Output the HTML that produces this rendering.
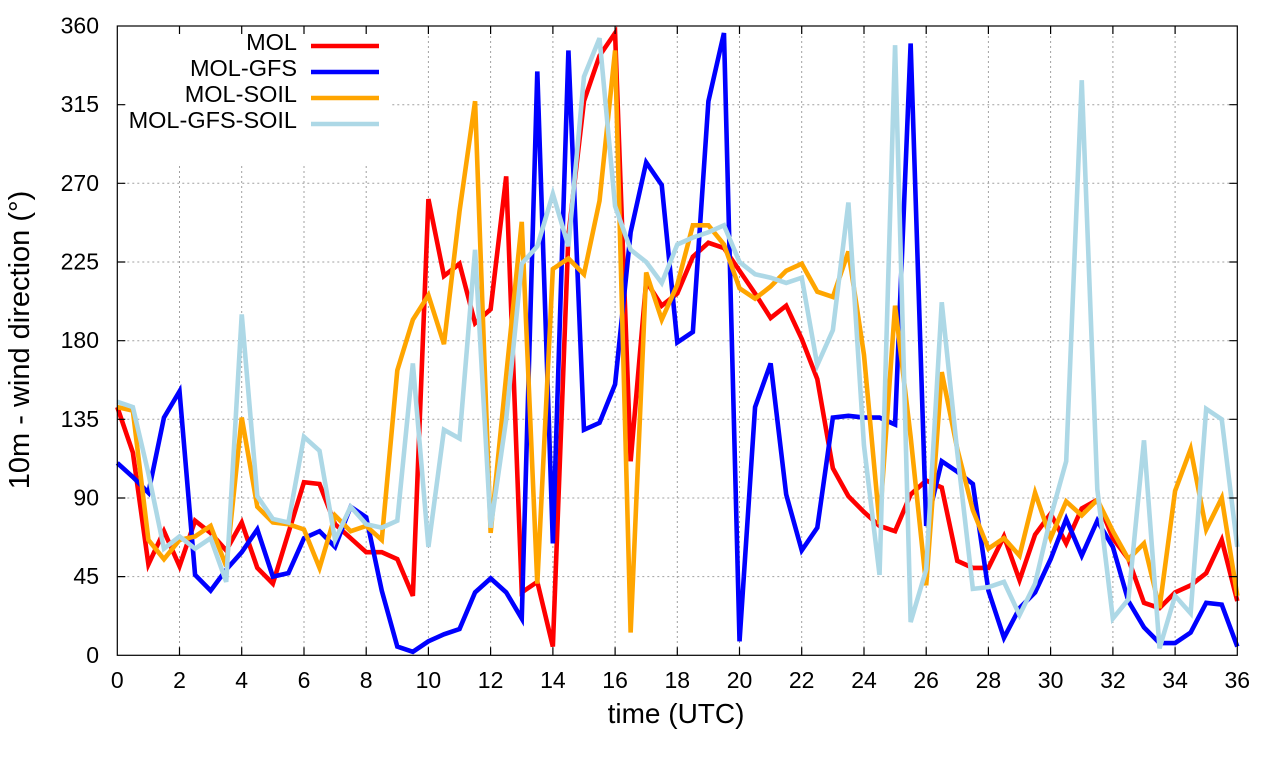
<!DOCTYPE html>
<html><head><meta charset="utf-8"><style>
html,body{margin:0;padding:0;background:#fff;}
svg{display:block;}
text{font-family:"Liberation Sans","DejaVu Sans",sans-serif;fill:#000;}
</style></head><body>
<svg width="1280" height="760" viewBox="0 0 1280 760" xmlns="http://www.w3.org/2000/svg">
<rect width="1280" height="760" fill="#fff"/>
<g stroke="#a0a0a0" stroke-width="1" stroke-dasharray="2,3" fill="none">
<path d="M179.5 26V655.3M241.7 26V655.3M304 26V655.3M366.2 26V655.3M428.4 26V655.3M490.6 26V655.3M552.9 26V655.3M615.1 26V655.3M677.3 26V655.3M739.5 26V655.3M801.7 26V655.3M864 26V655.3M926.2 26V655.3M988.4 26V655.3M1050.6 26V655.3M1112.9 26V655.3M1175.1 26V655.3"/>
<path d="M117.3 576.6H1237.3M117.3 498H1237.3M117.3 419.3H1237.3M117.3 340.7H1237.3M117.3 262H1237.3M117.3 183.3H1237.3M117.3 104.7H1237.3"/>
</g>
<g transform="translate(117.3,655.3) scale(15.5556,-1.748)" fill="none" stroke-width="4.6">
<polyline vector-effect="non-scaling-stroke" stroke="#ff0000" points="0,142 1,116 2,52 3,71 4,51 5,77 6,70 7,60 8,76 9,50 10,41 11,70 12,99 13,98 14,75 15,67 16,59 17,59 18,55 19,34 20,261 21,217 22,224 23,190 24,198 25,274 26,36 27,42 28,5 29,240 30,317 31,343 32,356 33,111 34,214 35,200 36,207 37,228 38,236 39,233 40,220 41,207 42,193 43,200 44,181 45,158 46,107 47,91 48,82 49,74 50,71 51,92 52,100 53,96 54,54 55,50 56,50 57,68 58,43 59,69 60,81 61,64 62,84 63,89 64,67 65,55 66,30 67,27 68,36 69,40 70,47 71,66 72,31"/>
<polyline vector-effect="non-scaling-stroke" stroke="#0000ff" points="0,110 1,102 2,93 3,136 4,151 5,46 6,37 7,49 8,59 9,72 10,45 11,47 12,67 13,71 14,62 15,85 16,79 17,37 18,5 19,2 20,8 21,12 22,15 23,36 24,44 25,36 26,21 27,334 28,64 29,346 30,129 31,133 32,155 33,242 34,282 35,269 36,179 37,185 38,317 39,356 40,8 41,142 42,167 43,92 44,60 45,73 46,136 47,137 48,136 49,136 50,132 51,350 52,74 53,111 54,105 55,98 56,37 57,10 58,27 59,36 60,55 61,78 62,57 63,77 64,62 65,31 66,16 67,7 68,7 69,13 70,30 71,29 72,5"/>
<polyline vector-effect="non-scaling-stroke" stroke="#ffa500" points="0,142 1,140 2,66 3,55 4,66 5,68 6,74 7,51 8,136 9,85 10,76 11,75 12,72 13,50 14,80 15,71 16,74 17,66 18,163 19,192 20,206 21,178 22,254 23,317 24,70 25,160 26,248 27,41 28,221 29,227 30,218 31,260 32,346 33,13 34,219 35,192 36,212 37,246 38,246 39,235 40,210 41,204 42,211 43,220 44,224 45,208 46,205 47,231 48,172 49,75 50,200 51,125 52,40 53,162 54,118 55,83 56,61 57,67 58,57 59,93 60,67 61,88 62,80 63,89 64,71 65,55 66,64 67,27 68,94 69,118 70,72 71,90 72,34"/>
<polyline vector-effect="non-scaling-stroke" stroke="#add8e6" points="0,145 1,142 2,104 3,61 4,68 5,61 6,67 7,42 8,195 9,91 10,78 11,76 12,125 13,117 14,66 15,85 16,75 17,73 18,77 19,167 20,62 21,129 22,124 23,232 24,73 25,135 26,224 27,234 28,264 29,234 30,331 31,353 32,257 33,232 34,225 35,213 36,235 37,239 38,242 39,246 40,225 41,218 42,216 43,213 44,216 45,166 46,186 47,259 48,120 49,46 50,349 51,19 52,49 53,202 54,116 55,38 56,39 57,42 58,23 59,41 60,79 61,111 62,329 63,95 64,21 65,32 66,123 67,4 68,34 69,24 70,141 71,135 72,62"/>
</g>
<!-- legend (opaque) -->
<rect x="124" y="27" width="268" height="139" fill="#fff"/>
<g font-size="23.5" text-anchor="end">
<text x="297" y="50">MOL</text>
<text x="297" y="76">MOL-GFS</text>
<text x="297" y="102">MOL-SOIL</text>
<text x="297" y="128">MOL-GFS-SOIL</text>
</g>
<g stroke-width="4.6">
<line x1="311" y1="46" x2="379" y2="46" stroke="#ff0000"/>
<line x1="311" y1="72" x2="379" y2="72" stroke="#0000ff"/>
<line x1="311" y1="98" x2="379" y2="98" stroke="#ffa500"/>
<line x1="311" y1="124" x2="379" y2="124" stroke="#add8e6"/>
</g>
<!-- border and ticks -->
<rect x="117.3" y="26" width="1120" height="629.3" fill="none" stroke="#000" stroke-width="1.2"/>
<g stroke="#000" stroke-width="1.2">
<path d="M179.5 655.3v-8M241.7 655.3v-8M304 655.3v-8M366.2 655.3v-8M428.4 655.3v-8M490.6 655.3v-8M552.9 655.3v-8M615.1 655.3v-8M677.3 655.3v-8M739.5 655.3v-8M801.7 655.3v-8M864 655.3v-8M926.2 655.3v-8M988.4 655.3v-8M1050.6 655.3v-8M1112.9 655.3v-8M1175.1 655.3v-8"/>
<path d="M179.5 26v8M241.7 26v8M304 26v8M366.2 26v8M428.4 26v8M490.6 26v8M552.9 26v8M615.1 26v8M677.3 26v8M739.5 26v8M801.7 26v8M864 26v8M926.2 26v8M988.4 26v8M1050.6 26v8M1112.9 26v8M1175.1 26v8"/>
<path d="M117.3 576.6h8M117.3 498h8M117.3 419.3h8M117.3 340.7h8M117.3 262h8M117.3 183.3h8M117.3 104.7h8"/>
<path d="M1237.3 576.6h-8M1237.3 498h-8M1237.3 419.3h-8M1237.3 340.7h-8M1237.3 262h-8M1237.3 183.3h-8M1237.3 104.7h-8"/>
</g>
<!-- y tick labels -->
<g font-size="23" text-anchor="end">
<text x="99" y="662.8">0</text>
<text x="99" y="584.1">45</text>
<text x="99" y="505.5">90</text>
<text x="99" y="426.8">135</text>
<text x="99" y="348.2">180</text>
<text x="99" y="269.5">225</text>
<text x="99" y="190.8">270</text>
<text x="99" y="112.2">315</text>
<text x="99" y="33.5">360</text>
</g>
<!-- x tick labels -->
<g font-size="23" text-anchor="middle">
<text x="117.3" y="688">0</text>
<text x="179.5" y="688">2</text>
<text x="241.7" y="688">4</text>
<text x="304" y="688">6</text>
<text x="366.2" y="688">8</text>
<text x="428.4" y="688">10</text>
<text x="490.6" y="688">12</text>
<text x="552.9" y="688">14</text>
<text x="615.1" y="688">16</text>
<text x="677.3" y="688">18</text>
<text x="739.5" y="688">20</text>
<text x="801.7" y="688">22</text>
<text x="864" y="688">24</text>
<text x="926.2" y="688">26</text>
<text x="988.4" y="688">28</text>
<text x="1050.6" y="688">30</text>
<text x="1112.9" y="688">32</text>
<text x="1175.1" y="688">34</text>
<text x="1237.3" y="688">36</text>
</g>
<text x="676" y="723" font-size="28" text-anchor="middle">time (UTC)</text>
<text transform="translate(29,340) rotate(-90)" font-size="29" text-anchor="middle">10m - wind direction (°)</text>
</svg>
</body></html>
